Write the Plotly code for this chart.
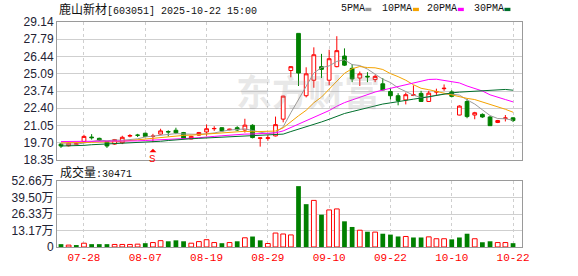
import plotly.graph_objects as go

# ---------------- data ----------------
dates = ["07-23","07-24","07-25","07-28","07-29","07-30","07-31","08-01","08-04","08-05",
         "08-06","08-07","08-08","08-11","08-12","08-13","08-14","08-15","08-18","08-19",
         "08-20","08-21","08-22","08-25","08-26","08-27","08-28","08-29","09-01","09-02",
         "09-03","09-04","09-05","09-08","09-09","09-10","09-11","09-12","09-15","09-16",
         "09-17","09-18","09-19","09-22","09-23","09-24","09-25","09-26","09-29","09-30",
         "10-09","10-10","10-13","10-14","10-15","10-16","10-17","10-20","10-21","10-22"]

open_ = [19.60,19.47,19.58,19.80,20.15,20.05,19.80,19.60,19.70,20.22,
         20.30,20.45,20.20,20.38,20.58,20.68,20.50,20.00,20.30,20.55,
         20.80,20.88,20.72,20.88,20.70,21.07,20.05,20.05,20.24,21.55,
         25.35,28.25,23.38,24.59,25.65,24.59,25.65,26.48,25.52,24.76,
         24.90,24.64,24.31,23.71,23.38,23.05,23.40,23.56,22.93,23.66,
         23.93,23.68,21.87,22.93,21.87,21.92,21.72,21.29,21.60,21.65]
high = [19.67,19.72,19.72,20.33,20.38,20.10,19.83,20.00,20.25,20.38,
        20.40,20.48,20.40,20.80,20.68,20.88,20.55,20.25,20.55,21.13,
        21.00,20.92,20.80,21.00,21.58,21.15,20.12,20.31,21.75,23.38,
        25.70,28.25,25.60,27.16,26.65,26.97,28.03,27.08,25.85,25.27,
        25.22,25.02,24.76,24.00,23.58,23.63,24.19,23.76,23.76,23.93,
        24.26,23.81,22.63,23.13,22.12,22.00,21.80,21.49,21.87,21.70]
low = [19.30,19.42,19.52,19.75,19.95,19.85,19.30,19.55,19.60,20.13,
       20.15,20.18,19.75,20.35,20.20,20.38,20.00,19.98,20.25,20.25,
       20.63,20.55,20.68,20.63,20.50,20.05,19.40,19.86,20.20,21.30,
       24.82,24.14,23.25,24.00,24.76,24.20,25.60,25.70,24.44,24.14,
       24.44,24.44,23.80,23.08,22.63,22.70,23.35,22.90,22.90,23.43,
       23.76,23.25,21.85,21.62,21.54,21.65,21.04,21.24,21.37,21.32]
close = [19.45,19.67,19.64,20.20,20.10,19.88,19.45,19.95,20.13,20.27,
         20.29,20.20,20.22,20.63,20.55,20.48,20.05,20.20,20.50,20.80,
         20.82,20.63,20.76,20.70,21.08,20.11,20.08,20.09,21.12,23.35,
         25.65,25.15,25.09,26.58,25.44,26.27,26.90,25.77,24.69,25.09,
         24.85,24.89,23.83,23.38,23.00,23.46,23.45,22.93,23.58,23.70,
         23.96,23.33,22.57,21.75,22.05,21.72,21.04,21.44,21.64,21.44]

ma5 = [19.62,19.62,19.60,19.68,19.82,19.91,19.86,19.92,19.90,19.94,
       20.01,20.16,20.22,20.32,20.37,20.42,20.39,20.38,20.36,20.41,
       20.47,20.59,20.70,20.74,20.79,20.66,20.55,20.41,20.50,20.95,
       22.05,23.07,24.06,25.15,25.58,25.71,26.06,26.19,25.81,25.74,
       25.46,25.06,24.67,24.41,23.99,23.71,23.42,23.24,23.28,23.42,
       23.52,23.50,23.43,23.06,22.73,22.28,21.83,21.60,21.58,21.46]
ma10 = [19.70,19.70,19.70,19.72,19.74,19.76,19.76,19.78,19.82,19.88,
        19.96,20.01,20.07,20.11,20.16,20.22,20.28,20.30,20.34,20.39,
        20.44,20.49,20.54,20.55,20.60,20.56,20.57,20.56,20.62,20.87,
        21.36,21.81,22.24,22.83,23.27,23.88,24.57,25.13,25.49,25.66,
        25.58,25.56,25.43,25.11,24.87,24.59,24.24,23.96,23.85,23.71,
        23.62,23.46,23.34,23.17,23.08,22.90,22.66,22.51,22.32,22.09]
ma20 = [19.80,19.80,19.80,19.80,19.80,19.80,19.80,19.81,19.82,19.83,
        19.85,19.88,19.90,19.93,19.97,20.00,20.03,20.06,20.10,20.13,
        20.20,20.25,20.30,20.33,20.38,20.39,20.42,20.43,20.48,20.63,
        20.90,21.14,21.38,21.68,21.93,22.22,22.56,22.84,23.05,23.26,
        23.46,23.67,23.82,23.96,24.05,24.22,24.39,24.53,24.65,24.67,
        24.59,24.51,24.38,24.14,23.97,23.75,23.45,23.24,23.08,22.90]
ma30 = [19.45,19.45,19.46,19.50,19.55,19.58,19.60,19.62,19.64,19.66,
        19.70,19.74,19.77,19.82,19.88,19.94,19.98,20.02,20.05,20.08,
        20.12,20.15,20.18,20.20,20.23,20.26,20.29,20.31,20.34,20.38,
        20.58,20.76,20.94,21.15,21.33,21.54,21.79,21.99,22.14,22.30,
        22.45,22.61,22.73,22.82,22.90,23.00,23.11,23.20,23.31,23.40,
        23.51,23.60,23.66,23.69,23.73,23.78,23.81,23.86,23.87,23.81]

# volume in 万手
volume = [2.28,1.52,1.52,3.04,2.28,2.28,2.28,2.03,2.03,2.03,
          2.28,3.04,3.55,5.07,4.56,5.32,4.56,3.04,4.31,5.83,
          3.55,3.04,3.55,4.56,7.35,8.36,5.32,2.79,11.15,10.39,
          9.63,48.6,34.2,37.2,25.8,29.6,30.4,20.5,16.0,13.4,
          12.2,11.9,10.6,9.9,8.4,8.4,7.6,7.6,8.1,6.6,
          6.6,6.1,7.6,10.6,6.6,3.8,4.56,3.55,3.55,3.0471]
# 1 = red (up) volume bar, 0 = green
vol_up = [0,1,0,1,0,0,0,1,1,1, 1,0,1,1,0,0,0,1,1,1,
          1,0,1,0,1,0,0,1,1,1, 1,0,0,1,0,1,1,0,0,1,
          0,1,0,0,0,1,0,0,1,1, 1,0,0,0,1,0,0,1,1,0]

x_tick_labels = ["07-28","08-07","08-19","08-29","09-10","09-22","10-10","10-22"]
price_ticks = [18.35,19.70,21.05,22.40,23.74,25.09,26.44,27.79,29.14]
vol_ticks = [0,13.17,26.33,39.50,52.66]
signal_index = 12
title_name = "鹿山新材"
title_rest = "[603051] 2025-10-22 15:00"
ma_names = ["5PMA","10PMA","20PMA","30PMA"]

# ---------------- style ----------------
RED = "#ff0000"
GREEN = "#008000"
MA_COLORS = ["#9a9a9a", "#f5a300", "#ff00ff", "#006f2c"]
GRID = "#cfcfcf"
BORDER = "#9a9a9a"
W, H = 578, 276
L, R, T, B = 56, 56, 22, 21
PW, PH = W - L - R, H - T - B

def px(xp):
    return (xp - L) / PW

def py(yp):
    return (H - B - yp) / PH

n = len(dates)
xs = list(range(n))
tickvals = [dates.index(t) for t in x_tick_labels]

fig = go.Figure()
fig.add_trace(go.Candlestick(
    x=xs, open=open_, high=high, low=low, close=close,
    increasing=dict(line=dict(color=RED, width=1), fillcolor="white"),
    decreasing=dict(line=dict(color=GREEN, width=1), fillcolor=GREEN),
    whiskerwidth=0, xaxis="x", yaxis="y", showlegend=False, hoverinfo="skip"))

for vals, col in zip([ma5, ma10, ma20, ma30], MA_COLORS):
    fig.add_trace(go.Scatter(x=xs, y=vals, mode="lines", line=dict(color=col, width=1),
                             xaxis="x", yaxis="y", showlegend=False, hoverinfo="skip"))

up_x = [i for i in xs if vol_up[i]]
dn_x = [i for i in xs if not vol_up[i]]
fig.add_trace(go.Bar(x=up_x, y=[volume[i] for i in up_x], width=0.62,
                     marker=dict(color="white", line=dict(color=RED, width=1)),
                     xaxis="x2", yaxis="y2", showlegend=False, hoverinfo="skip"))
fig.add_trace(go.Bar(x=dn_x, y=[volume[i] for i in dn_x], width=0.62,
                     marker=dict(color=GREEN, line=dict(width=0)),
                     xaxis="x2", yaxis="y2", showlegend=False, hoverinfo="skip"))

xrange = [-0.52, n - 1 + 1.17]
top_dom = [(H - B - 165) / PH, 1]
bot_dom = [0, (H - B - 186.7) / PH]

axis_common = dict(showline=True, mirror=True, linecolor=BORDER, linewidth=1,
                   zeroline=False, ticks="", fixedrange=True)
tickfont = dict(family="Liberation Sans, Arial, Noto Sans CJK SC", size=12, color="#222233")

fig.update_layout(
    width=W, height=H, margin=dict(l=L, r=R, t=T, b=B),
    paper_bgcolor="white", plot_bgcolor="white",
    barmode="overlay",
    xaxis=dict(domain=[0, 1], anchor="y", range=xrange, tickvals=tickvals,
               showticklabels=False, showgrid=True, gridcolor=GRID, griddash="3px,3px",
               rangeslider=dict(visible=False), **axis_common),
    xaxis2=dict(domain=[0, 1], anchor="y2", matches="x", range=xrange, tickvals=tickvals,
                ticktext=x_tick_labels, showgrid=True, gridcolor=GRID, griddash="3px,3px",
                tickfont=dict(family="Liberation Mono, DejaVu Sans Mono", size=11, color=RED),
                **axis_common),
    yaxis=dict(domain=top_dom, anchor="x", range=[price_ticks[0], price_ticks[-1]],
               tickvals=price_ticks, ticktext=[f"{v:.2f}" for v in price_ticks],
               showgrid=True, gridcolor=GRID, tickfont=tickfont, **axis_common),
    yaxis2=dict(domain=bot_dom, anchor="x2", range=[0, vol_ticks[-1]],
                tickvals=vol_ticks,
                ticktext=["0" if v == 0 else f"{v:.2f}万" for v in vol_ticks],
                showgrid=True, gridcolor=GRID, tickfont=tickfont, **axis_common),
    font=dict(family="Liberation Sans, Noto Sans CJK SC"),
)

ann = []
# watermark
ann.append(dict(xref="paper", yref="paper", x=px(308), y=py(92), text="<b>东方财富</b>",
                showarrow=False, xanchor="center", yanchor="middle",
                font=dict(family="Noto Sans CJK SC", size=36, color="rgba(150,150,150,0.22)")))
# title
ann.append(dict(xref="paper", yref="paper", x=0, y=py(8.5), xanchor="left", yanchor="middle",
                showarrow=False,
                text=f'<span style="font-family:Noto Sans CJK SC;font-size:12px">{title_name}</span>{title_rest}',
                font=dict(family="Liberation Mono, DejaVu Sans Mono", size=10, color="#111111")))
# volume label
ann.append(dict(xref="paper", yref="paper", x=px(57.5), y=py(177), xanchor="left", yanchor="middle",
                showarrow=False,
                text=f'<span style="font-family:Noto Sans CJK SC;font-size:12px">成交量</span>:{round(volume[-1]*10000)}',
                font=dict(family="Liberation Mono, DejaVu Sans Mono", size=10, color="#111111")))
# MA legend
legend_starts = [338.3, 380.0, 425.0, 471.7]
shapes = []
for name, col, x0 in zip(ma_names, MA_COLORS, legend_starts):
    ann.append(dict(xref="paper", yref="paper", x=px(x0), y=py(8), xanchor="left", yanchor="middle",
                    showarrow=False, text=name,
                    font=dict(family="Liberation Mono, DejaVu Sans Mono", size=10, color="#111111")))
    sx = x0 + 6 * len(name) + 2.7
    shapes.append(dict(type="rect", xref="paper", yref="paper",
                       x0=px(sx), x1=px(sx + 6), y0=py(10.7), y1=py(7.3),
                       fillcolor=col, line=dict(width=0)))
# signal marker: small triangle (pixel-sized shape anchored at the candle low) and "S"
shapes.append(dict(type="path", xref="x", yref="y", xsizemode="pixel", ysizemode="pixel",
                   xanchor=signal_index, yanchor=low[signal_index],
                   path="M -3.5 -10 L 3.5 -10 L 0 -6.5 Z",
                   fillcolor=RED, line=dict(width=0)))
ann.append(dict(xref="x", yref="y", x=signal_index, y=low[signal_index], text="S",
                showarrow=False, yanchor="top", yshift=-9,
                font=dict(family="Liberation Mono, DejaVu Sans Mono", size=11, color=RED)))

fig.update_layout(annotations=ann, shapes=shapes)
fig.write_html("out.html")
